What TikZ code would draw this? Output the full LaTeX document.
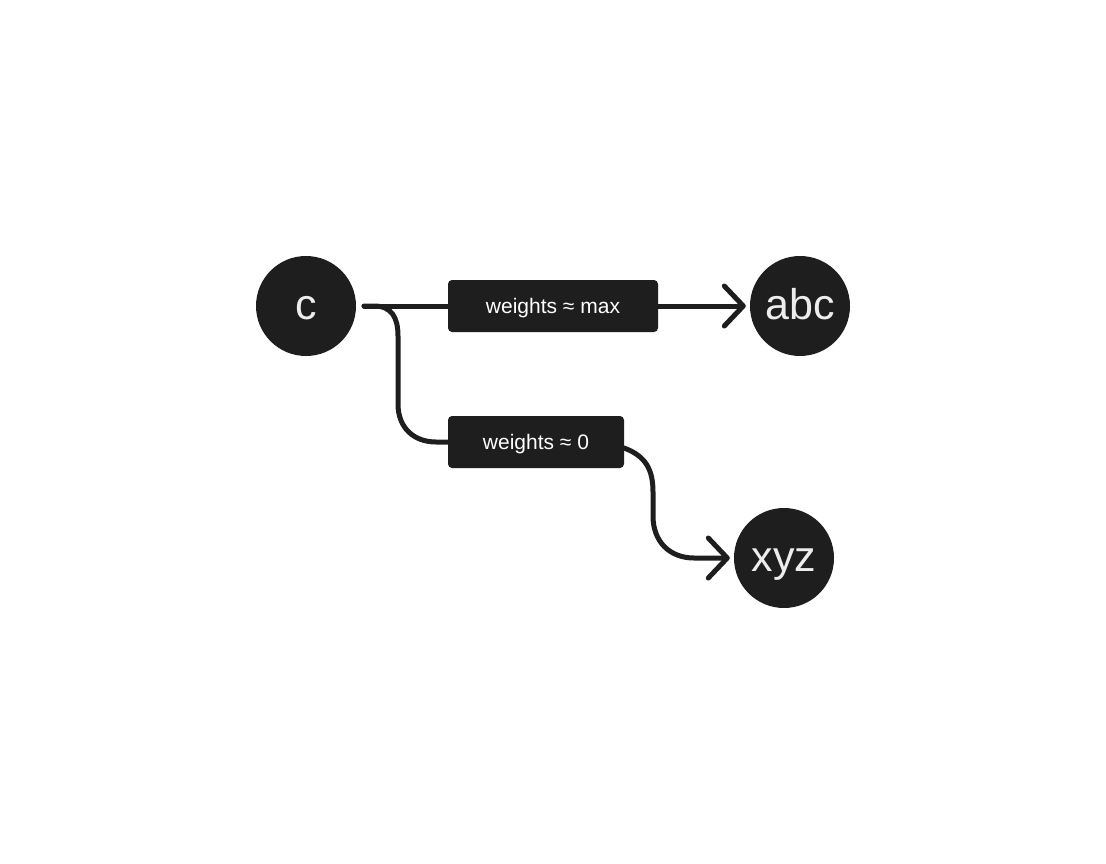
\documentclass[tikz,border=0pt]{standalone}
\usepackage{fontspec}
\setmainfont{Liberation Sans}
\usetikzlibrary{arrows.meta}
\definecolor{ink}{HTML}{1E1E1E}
\definecolor{txt}{HTML}{EDEDED}
\begin{document}
\begin{tikzpicture}[x=1pt,y=-1pt,
  circ/.style={circle,fill=ink,minimum size=100pt,inner sep=0pt,text=txt,text height=26pt,text depth=0pt,font=\fontsize{43}{43}\selectfont},
  wbox/.style={rectangle,rounded corners=4pt,fill=ink,minimum height=52pt,inner sep=0pt,text=white,text height=15pt,text depth=0pt,font=\fontsize{21}{21}\selectfont},
  conn/.style={draw=ink,line width=5pt,line cap=round,line join=round},
  tip/.style={-{Straight Barb[length=19pt,width=40pt,line cap=round,line join=round]}}
]
\useasboundingbox (0,0) rectangle (1106,864);
\node[circ] (c) at (306,306) {c};
\node[circ] (abc) at (800,306) {abc};
\node[circ] (xyz) at (784,558) {xyz};
\node[wbox,minimum width=210pt] (w1) at (553,306) {weights ≈ max};
\node[wbox,minimum width=176pt] (w2) at (536,442) {weights ≈ 0};
\coordinate (s) at (364,306);
\coordinate (w2out) at (624,448);
\path[conn] (s) -- (w1.west);
\path[conn,tip,shorten >=4pt] (w1.east) -- (abc.west);
\path[conn] (s) -- (374,306) .. controls (392,306) and (398,318) .. (398,336)
  -- (398,404) .. controls (398,428) and (414,442) .. (436,442) -- (w2.west);
\path[conn,tip,shorten >=4pt] (w2out) .. controls (646,456) and (653,470) .. (653,492)
  -- (653,516) .. controls (653,542) and (670,558) .. (694,558) -- (xyz.west);
\end{tikzpicture}
\end{document}
